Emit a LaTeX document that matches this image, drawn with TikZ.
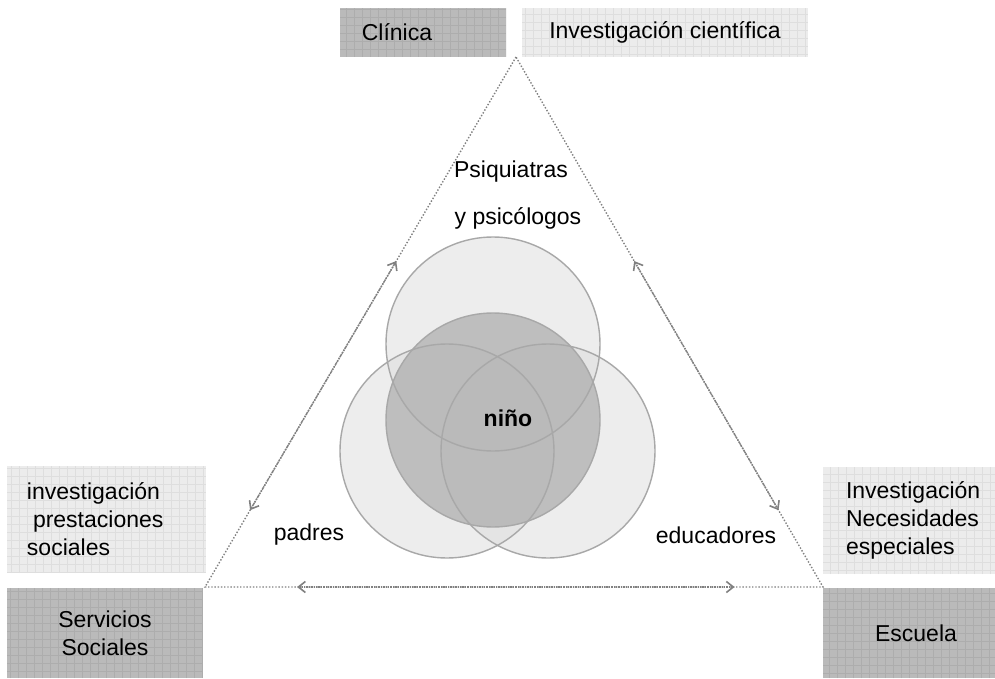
\documentclass[tikz,border=0pt]{standalone}
\usepackage{fontspec}
\setmainfont{Liberation Sans}
\usetikzlibrary{arrows.meta,calc}
\definecolor{darkfill}{HTML}{BABABA}
\definecolor{darkgrid}{HTML}{ADADAD}
\definecolor{lightfill}{HTML}{ECECEC}
\definecolor{lightgrid}{HTML}{DEDEDE}
\definecolor{linec}{HTML}{808080}
\definecolor{circline}{HTML}{A8A8A8}
\begin{document}
\begin{tikzpicture}[x=1pt,y=-1pt,
  txt/.style={font=\fontsize{23}{28}\selectfont, inner sep=0pt},
  darkbox/.style={txt, fill=darkfill, align=center,
    path picture={\draw[darkgrid, line width=0.5pt, step=8pt] (path picture bounding box.south west) grid (path picture bounding box.north east);}},
  lightbox/.style={txt, fill=lightfill,
    path picture={\draw[lightgrid, line width=0.5pt, step=8pt] (path picture bounding box.south west) grid (path picture bounding box.north east);}},
  tri/.style={linec, line width=1.4pt, dash pattern=on 1.4pt off 1.8pt},
  dblarrow/.style={linec, line width=1.4pt, dash pattern=on 1.4pt off 1pt, {Straight Barb[length=7pt,width=11pt,line width=1.6pt]}-{Straight Barb[length=7pt,width=11pt,line width=1.6pt]}},
  lightcirc/.style={fill=lightfill!85!gray, fill opacity=0.5},
  centercirc/.style={fill=darkfill!92!black, fill opacity=0.7},
  circedge/.style={draw=circline, line width=1.4pt}
]
\useasboundingbox (0,0) rectangle (995,679);
\fill[white] (0,0) rectangle (995,679);

% boxes
\node[darkbox, minimum width=166pt, minimum height=49pt] (clinica) at (423,32.5) {Clínica\hspace*{52pt}};
\node[lightbox, minimum width=286pt, minimum height=49pt] (cient) at (665,32.5) {Investigación científica};
\node[lightbox, minimum width=199pt, minimum height=107pt, text width=159pt, align=left] (prest) at (106.5,519.5) {investigación\\\hspace*{6pt}prestaciones\\sociales};
\node[darkbox, minimum width=196pt, minimum height=90pt] (servicios) at (105,633) {Servicios\\Sociales};
\node[lightbox, minimum width=172pt, minimum height=107pt, text width=126pt, align=left] (necesidades) at (909,520.5) {Investigación\\Necesidades\\especiales};
\node[darkbox, minimum width=172pt, minimum height=90pt] (escuela) at (909,633) {\hspace*{14pt}Escuela};

% triangle
\coordinate (top) at (516,57);
\coordinate (bl) at (205,587);
\coordinate (br) at (823,587);
\draw[tri] (top) -- (bl) -- (br) -- cycle;

% double arrows along sides
\coordinate (l1) at ($(top)!0.385!(bl)$);
\coordinate (l2) at ($(top)!0.855!(bl)$);
\coordinate (r1) at ($(top)!0.385!(br)$);
\coordinate (r2) at ($(top)!0.855!(br)$);
\coordinate (b1) at ($(bl)!0.149!(br)$);
\coordinate (b2) at ($(bl)!0.857!(br)$);
\draw[dblarrow] (l1) -- (l2);
\draw[dblarrow] (r1) -- (r2);
\draw[dblarrow] (b1) -- (b2);

% circles
\fill[lightcirc] (493,344) circle (107);
\fill[lightcirc] (447,451) circle (107);
\fill[lightcirc] (548,451) circle (107);
\fill[centercirc] (493,420) circle (107);
\node[circle, minimum size=214pt, circedge] (ctop) at (493,344) {};
\node[circle, minimum size=214pt, circedge] (cleft) at (447,451) {};
\node[circle, minimum size=214pt, circedge] (cright) at (548,451) {};
\node[circle, minimum size=214pt, circedge] (ccenter) at (493,420) {};

% labels
\node[txt] (psi1) at (511,172) {Psiquiatras};
\node[txt] (psi2) at (518,218) {y psicólogos};
\node[txt, font=\fontsize{23}{28}\selectfont\bfseries] (nino) at (508,418) {niño};
\node[txt] (padres) at (309,535) {padres};
\node[txt] (educ) at (716,535) {educadores};
\end{tikzpicture}
\end{document}
